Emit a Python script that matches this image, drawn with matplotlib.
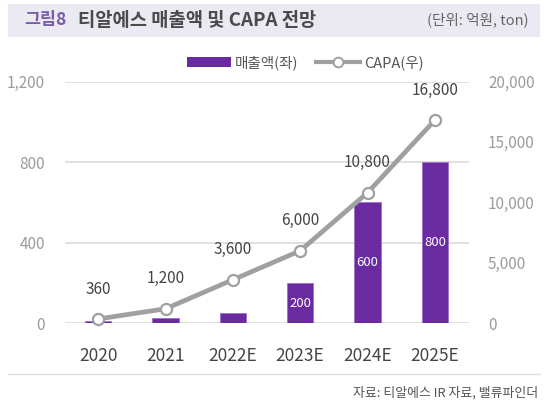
import matplotlib
matplotlib.use("Agg")
import matplotlib.pyplot as plt
from matplotlib.patches import Rectangle
from matplotlib.lines import Line2D
from matplotlib.ticker import FuncFormatter

plt.rcParams['font.family'] = ['Noto Sans CJK KR', 'DejaVu Sans']

categories = ['2020', '2021', '2022E', '2023E', '2024E', '2025E']
sales = [10, 25, 50, 200, 600, 800]          # 매출액 (억원), left axis
sales_labels = ['', '', '', '200', '600', '800']
capa = [360, 1200, 3600, 6000, 10800, 16800]  # CAPA (ton), right axis
left_ticks = [0, 400, 800, 1200]
right_ticks = [0, 5000, 10000, 15000, 20000]

PURPLE = '#6a2aa0'
LINE_GRAY = '#a0a0a0'
TICK_GRAY = '#9c9c9c'
TEXT_DARK = '#454545'

W, H = 550, 401
fig = plt.figure(figsize=(W / 100, H / 100), dpi=100)

# axes placement (pixels)
x0, x1 = 64.5, 468.5
y_top, y_bot = 81.5, 323.3
ax = fig.add_axes([x0 / W, 1 - y_bot / H, (x1 - x0) / W, (y_bot - y_top) / H])
ax2 = ax.twinx()

xs = list(range(len(categories)))
bars = ax.bar(xs, sales, width=0.39, color=PURPLE, edgecolor='#9b6fd0',
              linewidth=0.6, zorder=2)
for b, lab in zip(bars, sales_labels):
    if lab:
        ax.text(b.get_x() + b.get_width() / 2, b.get_height() / 2, lab,
                ha='center', va='center', color='white', fontsize=9.5, zorder=3)

ax.set_xlim(-0.5, len(categories) - 0.5)
ax.set_ylim(0, 1200)
ax.set_yticks(left_ticks)
ax.yaxis.set_major_formatter(FuncFormatter(lambda v, p: f'{int(v):,}'))
ax.grid(axis='y', color='#dcdcdc', linewidth=1.2, zorder=0)
ax.set_axisbelow(True)
ax.set_xticks(xs)
ax.set_xticklabels(categories)
ax.tick_params(axis='x', length=0, pad=17, labelsize=12.5, labelcolor=TEXT_DARK)
ax.tick_params(axis='y', length=0, pad=14, labelsize=11, labelcolor=TICK_GRAY)
for s in ax.spines.values():
    s.set_visible(False)

ax2.plot(xs, capa, color=LINE_GRAY, linewidth=3.4, marker='o', markersize=8,
         markerfacecolor='white', markeredgecolor=LINE_GRAY, markeredgewidth=1.6,
         zorder=5, clip_on=False)
for x, v in zip(xs, capa):
    ax2.annotate(f'{v:,}', (x, v), xytext=(0, 21.5), textcoords='offset points',
                 ha='center', va='center', fontsize=11, color=TEXT_DARK)
ax2.set_ylim(0, 20000)
ax2.set_yticks(right_ticks)
ax2.yaxis.set_major_formatter(FuncFormatter(lambda v, p: f'{int(v):,}'))
ax2.tick_params(axis='y', length=0, pad=14, labelsize=11, labelcolor=TICK_GRAY)
for s in ax2.spines.values():
    s.set_visible(False)
ax.set_zorder(ax2.get_zorder() - 1)
ax.patch.set_visible(True)
ax2.patch.set_visible(False)

# legend
handles = [Rectangle((0, 0), 1, 1, facecolor=PURPLE, edgecolor='none'),
           Line2D([0], [0], color=LINE_GRAY, linewidth=3, marker='o', markersize=7,
                  markerfacecolor='white', markeredgecolor=LINE_GRAY, markeredgewidth=1.4)]
fig.legend(handles, ['매출액(좌)', 'CAPA(우)'], loc='center', ncol=2, frameon=False,
           bbox_to_anchor=(305.5 / W, 1 - 63 / H), fontsize=10.5, handlelength=3.0,
           handletextpad=0.3, columnspacing=1.2, labelcolor='#555555')

# title bar
fig.patches.append(Rectangle((8 / W, 1 - 37 / H), (540 - 8) / W, 33 / H,
                             transform=fig.transFigure, facecolor='#ebe9f1',
                             edgecolor='none', zorder=0))
fig.text(24 / W, 1 - 20 / H, '그림8', color='#7a5ca8', fontsize=12.5, fontweight='bold',
         ha='left', va='center')
fig.text(78 / W, 1 - 20 / H, '티알에스 매출액 및 CAPA 전망', color='#4a4a4a', fontsize=13.5,
         fontweight='bold', ha='left', va='center')
fig.text(529 / W, 1 - 20 / H, '(단위: 억원, ton)', color='#666666', fontsize=10.5,
         ha='right', va='center')

# bottom separator and source
fig.add_artist(Line2D([8 / W, 540 / W], [1 - 374 / H, 1 - 374 / H],
                      transform=fig.transFigure, color='#dddddd', linewidth=1))
fig.text(538 / W, 1 - 393 / H, '자료: 티알에스 IR 자료, 밸류파인더', color='#555555',
         fontsize=9.3, ha='right', va='center')

fig.savefig('out.png', dpi=100, facecolor='white')
